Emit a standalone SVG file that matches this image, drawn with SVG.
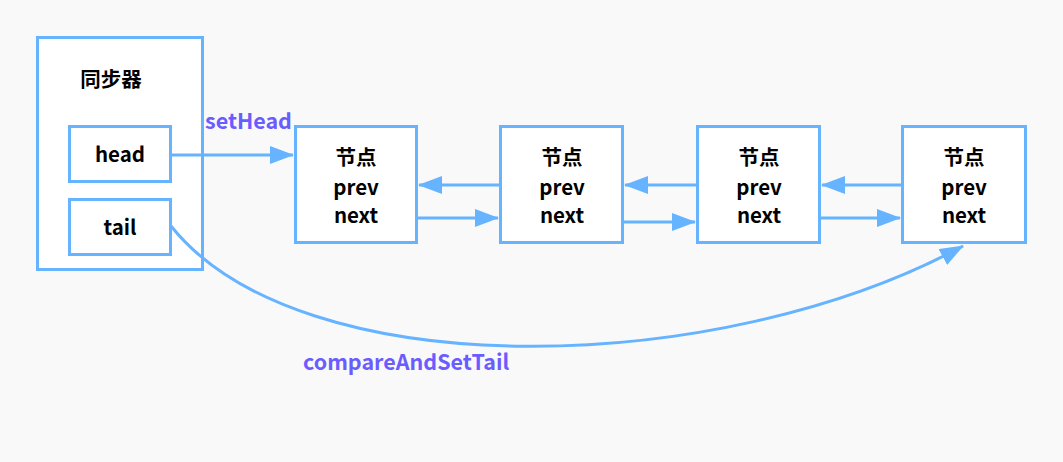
<svg xmlns="http://www.w3.org/2000/svg" width="1063" height="462" viewBox="0 0 1063 462">
<defs>
<style>
.box{fill:#fff;stroke:#66b3ff;stroke-width:3}
.t{font-family:"Noto Sans CJK SC","Noto Sans",sans-serif;font-weight:bold;font-size:20.5px;fill:#000;text-anchor:middle}
.lbl{font-family:"Noto Sans CJK SC","Noto Sans",sans-serif;font-weight:bold;font-size:21.5px;fill:#6a5cff}
.c{fill:none;stroke:#66b3ff;stroke-width:3}
</style>
<marker id="ah" markerUnits="userSpaceOnUse" markerWidth="24" markerHeight="18" refX="23" refY="9" orient="auto">
<path d="M0,0 L24,9 L0,18 Z" fill="#66b3ff"/>
</marker>
</defs>
<rect width="1063" height="462" fill="#f9f9f9"/>
<g id="sync">
<rect class="box" x="37.5" y="37.5" width="165" height="232"/>
<text class="t" x="111" y="87">同步器</text>
</g>
<g id="head">
<rect class="box" x="69.5" y="126.5" width="101" height="55"/>
<text class="t" x="120" y="162">head</text>
</g>
<g id="tail">
<rect class="box" x="69.5" y="199.5" width="101" height="55"/>
<text class="t" x="120" y="235">tail</text>
</g>
<g id="node1">
<rect class="box" x="295.5" y="126.5" width="121" height="116"/>
<text class="t" x="356" y="165">节点</text><text class="t" x="356" y="195">prev</text><text class="t" x="356" y="223">next</text>
</g>
<g id="node2">
<rect class="box" x="500.5" y="126.5" width="122" height="116"/>
<text class="t" x="562" y="165">节点</text><text class="t" x="562" y="195">prev</text><text class="t" x="562" y="223">next</text>
</g>
<g id="node3">
<rect class="box" x="697.5" y="126.5" width="122" height="116"/>
<text class="t" x="759" y="165">节点</text><text class="t" x="759" y="195">prev</text><text class="t" x="759" y="223">next</text>
</g>
<g id="node4">
<rect class="box" x="902.5" y="126.5" width="123" height="116"/>
<text class="t" x="964" y="165">节点</text><text class="t" x="964" y="195">prev</text><text class="t" x="964" y="223">next</text>
</g>
<g id="connectors">
<line class="c" x1="171" y1="155" x2="293" y2="155" marker-end="url(#ah)"/>
<line class="c" x1="500" y1="185" x2="419" y2="185" marker-end="url(#ah)"/>
<line class="c" x1="417" y1="218" x2="498" y2="218" marker-end="url(#ah)"/>
<line class="c" x1="697" y1="185" x2="625" y2="185" marker-end="url(#ah)"/>
<line class="c" x1="623" y1="222" x2="695" y2="222" marker-end="url(#ah)"/>
<line class="c" x1="902" y1="185" x2="822" y2="185" marker-end="url(#ah)"/>
<line class="c" x1="820" y1="218" x2="900" y2="218" marker-end="url(#ah)"/>
<path class="c" d="M171,226 C300,388 720,378 963,246" marker-end="url(#ah)"/>
<text class="lbl" x="205" y="129">setHead</text>
<text class="lbl" x="303" y="370">compareAndSetTail</text>
</g>
</svg>
